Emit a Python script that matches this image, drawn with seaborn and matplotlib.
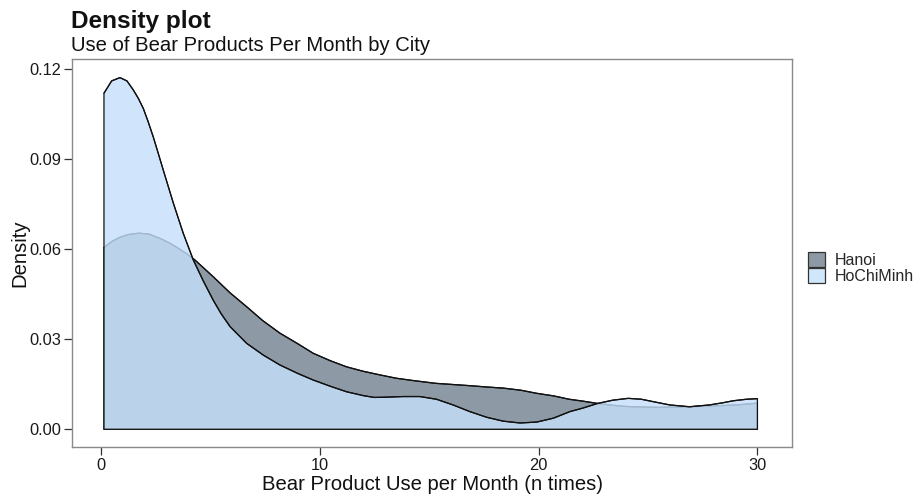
import matplotlib
matplotlib.use("Agg")
import matplotlib.pyplot as plt
from matplotlib.patches import Patch
import numpy as np
import pandas as pd
import seaborn as sns

# Estimated kernel density curves of monthly use, one per city
hanoi_x = [0.15, 0.5, 0.9, 1.3, 1.75, 2.2, 2.7, 3.1, 3.5, 3.9, 4.3, 5.14, 5.9, 6.67,
           7.4, 8.19, 9.0, 9.71, 10.5, 11.23, 12.0, 12.76, 13.5, 14.3, 15.3, 16.1,
           16.9, 17.6, 18.4, 19.2, 19.9, 20.7, 21.4, 22.0, 22.7, 23.4, 24.0, 24.8,
           25.5, 26.2, 26.9, 27.6, 28.4, 29.2, 30.0]
hanoi_density = [0.0605, 0.0625, 0.0640, 0.0649, 0.0653, 0.0650, 0.0636, 0.0622,
                 0.0605, 0.0586, 0.0564, 0.0508, 0.0455, 0.0408, 0.0362, 0.0320,
                 0.0285, 0.0253, 0.0228, 0.0208, 0.0193, 0.0181, 0.0170, 0.0162,
                 0.0153, 0.0149, 0.0145, 0.0141, 0.0137, 0.0130, 0.0120, 0.0111,
                 0.0100, 0.0094, 0.0086, 0.0080, 0.0076, 0.0074, 0.0073, 0.0074,
                 0.0075, 0.0077, 0.0079, 0.0082, 0.0087]

hcm_x = [0.15, 0.5, 0.88, 1.2, 1.49, 1.72, 1.95, 2.17, 2.40, 2.63, 2.86, 3.32, 3.77,
         4.23, 4.7, 5.14, 5.5, 5.91, 6.67, 7.43, 8.19, 9.0, 9.71, 10.5, 11.23,
         12.0, 12.5, 13.07, 13.82, 14.58, 15.34, 16.1, 16.86, 17.63, 18.39, 19.15,
         19.92, 20.68, 21.44, 22.0, 22.7, 23.4, 24.1, 24.7, 25.24, 26.0, 26.9,
         27.8, 28.4, 28.9, 29.5, 30.0]
hcm_density = [0.1119, 0.1160, 0.1171, 0.1160, 0.1130, 0.1102, 0.1068, 0.1024,
               0.0974, 0.0919, 0.0863, 0.0753, 0.0653, 0.0564, 0.0492, 0.0430,
               0.0385, 0.0342, 0.0286, 0.0247, 0.0214, 0.0186, 0.0164, 0.0143,
               0.0125, 0.0112, 0.0106, 0.0107, 0.0109, 0.0109, 0.0100, 0.0081,
               0.0059, 0.0040, 0.0027, 0.0021, 0.0024, 0.0037, 0.0059, 0.0070,
               0.0086, 0.0097, 0.0103, 0.0100, 0.0092, 0.0081, 0.0075, 0.0081,
               0.0088, 0.0095, 0.0100, 0.0102]

cities = ["Hanoi", "HoChiMinh"]
x_ticks = [0, 10, 20, 30]
y_ticks = [0.00, 0.03, 0.06, 0.09, 0.12]

sns.set_theme(style="white")
plt.rcParams["font.family"] = ["Liberation Sans", "DejaVu Sans"]

df = pd.concat([
    pd.DataFrame({"use": hanoi_x, "density": hanoi_density, "city": cities[0]}),
    pd.DataFrame({"use": hcm_x, "density": hcm_density, "city": cities[1]}),
], ignore_index=True)

fill_colors = {"Hanoi": "#8e99a6", "HoChiMinh": "#c5e0fb"}
fill_alpha = {"Hanoi": 1.0, "HoChiMinh": 0.81}
key_colors = {"Hanoi": "#8e99a6", "HoChiMinh": "#d0e6fb"}

fig = plt.figure(figsize=(9.19, 4.96), dpi=100)
ax = fig.add_axes([72 / 919, 1 - 447 / 496, 720 / 919, 388 / 496])

for i, city in enumerate(cities):
    sub = df[df["city"] == city]
    z = 1 + 2 * i
    line_z = z + 0.5 if i == 1 else z + 0.1
    ax.fill_between(sub["use"], 0, sub["density"], facecolor=fill_colors[city],
                    alpha=fill_alpha[city], edgecolor="none", zorder=z)
    # full outline: left edge, curve, right edge and baseline
    ax.fill_between(sub["use"], 0, sub["density"], facecolor="none",
                    edgecolor="#111111", linewidth=0.9, zorder=line_z)
    sns.lineplot(data=sub, x="use", y="density", color="#111111", linewidth=0.9,
                 ax=ax, zorder=line_z, legend=False)

ax.set_xlim(-1.31, 31.58)
ax.set_ylim(-0.0059, 0.1233)
ax.set_xticks(x_ticks)
ax.set_xticklabels([str(t) for t in x_ticks])
ax.set_yticks(y_ticks)
ax.set_yticklabels([f"{t:.2f}" for t in y_ticks])
ax.tick_params(axis="both", which="major", direction="out", length=6, width=0.9,
               color="#333333", labelsize=11.8, labelcolor="#1a1a1a", pad=2,
               bottom=True, left=True)
for s in ax.spines.values():
    s.set_color("#8a8a8a")
    s.set_linewidth(1.0)

ax.set_xlabel("Bear Product Use per Month (n times)", fontsize=14.6, color="#111111", labelpad=1)
ax.set_ylabel("Density", fontsize=14.6, color="#111111", labelpad=0)

fig.text(71 / 919, 1 - 28 / 496, "Density plot", fontsize=17.6, fontweight="bold",
         color="#111111", ha="left", va="baseline")
fig.text(71 / 919, 1 - 51 / 496, "Use of Bear Products Per Month by City", fontsize=14.6,
         color="#111111", ha="left", va="baseline")

handles = [Patch(facecolor=key_colors[c], edgecolor="#333333", linewidth=0.9) for c in cities]
fig.legend(handles, cities, loc="center left", bbox_to_anchor=(797 / 919, 1 - 268 / 496),
           frameon=False, fontsize=11.5, handlelength=1.05, handleheight=1.05,
           handletextpad=0.6, labelspacing=0.0, borderpad=0.2)

fig.savefig("out.png", dpi=100)
